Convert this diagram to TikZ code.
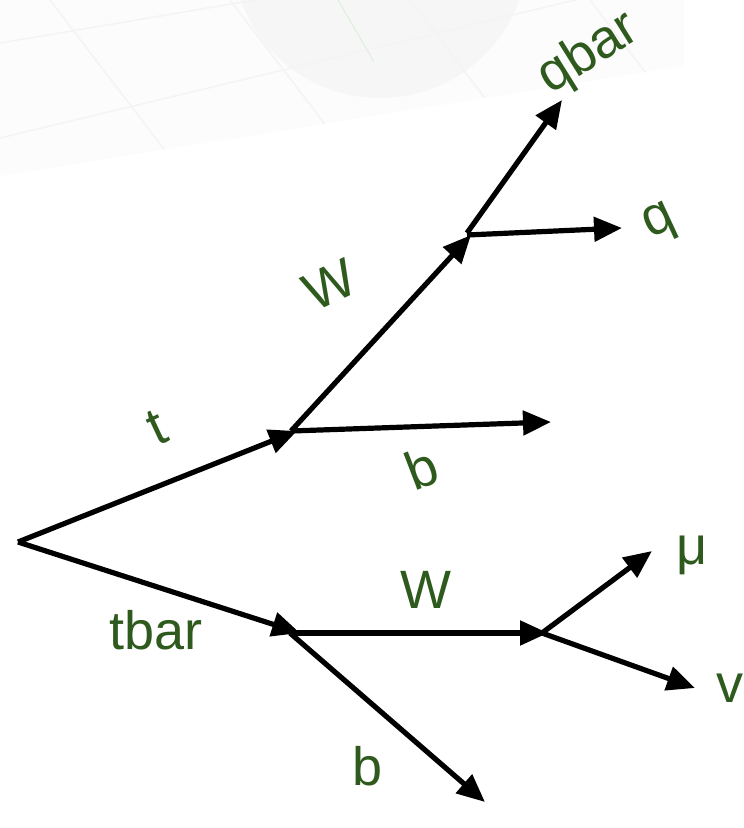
\documentclass[tikz,border=0pt]{standalone}
\usepackage{fontspec}
\setmainfont{Liberation Sans}
\usetikzlibrary{arrows.meta}
\definecolor{lblgreen}{RGB}{47,90,30}
\definecolor{bgfaint}{RGB}{252,252,252}
\definecolor{gridfaint}{RGB}{244,244,244}
\definecolor{blobfaint}{RGB}{246,246,246}
\begin{document}
\begin{tikzpicture}[x=1pt,y=-1pt,
  arr/.style={line width=5.2pt,-{Triangle[length=28pt,width=24pt]}},
  lbl/.style={text=lblgreen,font=\fontsize{54}{60}\selectfont,inner sep=0pt}]
\useasboundingbox (0,0) rectangle (744,828);
% faint background
\begin{scope}
  \clip (0,0) -- (684,0) -- (684,66) -- (0,176) -- cycle;
  \fill[bgfaint] (0,0) rectangle (744,200);
  \fill[blobfaint] (380,-50) circle (148);
  \draw[gridfaint,line width=1.5pt] (0,43) -- (700,-75);
  \draw[gridfaint,line width=1.5pt] (0,138) -- (700,-30);
  \draw[gridfaint,line width=1.5pt] (0,235) -- (700,65);
  \draw[gridfaint,line width=1.5pt] (50,0) -- (180,170);
  \draw[gridfaint,line width=1.5pt] (230,0) -- (360,170);
  \draw[gridfaint,line width=1.5pt] (-130,0) -- (0,170);
  \draw[gridfaint,line width=1.5pt] (410,0) -- (540,170);
  \draw[gridfaint,line width=1.5pt] (590,0) -- (720,170);
  \draw[green!30!gray!18,line width=1.2pt] (338,0) -- (374,62);
\end{scope}
% vertices
\coordinate (O) at (18,542);
\coordinate (A) at (297,431);
\coordinate (B) at (471,235);
\coordinate (C) at (300,633);
\coordinate (D) at (548,633);
\coordinate (qbarend) at (562,100);
\coordinate (qend) at (622,228);
\coordinate (b1end) at (551,422);
\coordinate (b2end) at (485,802);
\coordinate (muend) at (652,551);
\coordinate (nuend) at (695,688);
% connectors
\draw[arr] (O) -- (A);
\draw[arr] (O) -- (C);
\draw[arr] ([xshift=-6pt]A) -- (b1end);
\draw[arr] ([xshift=-6pt]A) -- (B);
\draw[arr] ([xshift=-4pt,yshift=2pt]B) -- (qbarend);
\draw[arr] ([xshift=-4pt]B) -- (qend);
\draw[arr] ([xshift=-10pt]C) -- (D);
\draw[arr] ([xshift=-10pt]C) -- (b2end);
\draw[arr] ([xshift=-6pt]D) -- (muend);
\draw[arr] ([xshift=-6pt]D) -- (nuend);
% labels
\node[lbl,rotate=32] (lqbar) at (589,54) {qbar};
\node[lbl,rotate=25] (lq) at (660,224) {q};
\node[lbl,rotate=25] (lW1) at (330,285) {W};
\node[lbl,rotate=25] (lt) at (157,428) {t};
\node[lbl,rotate=21] (lb1) at (422,468) {b};
\node[lbl] (lW2) at (426,590) {W};
\node[lbl] (ltbar) at (156,630) {tbar};
\node[lbl] (lb2) at (368,766) {b};
\node[lbl] (lmu) at (692,555) {μ};
\node[lbl] (lnu) at (730,688) {v};
\end{tikzpicture}
\end{document}
